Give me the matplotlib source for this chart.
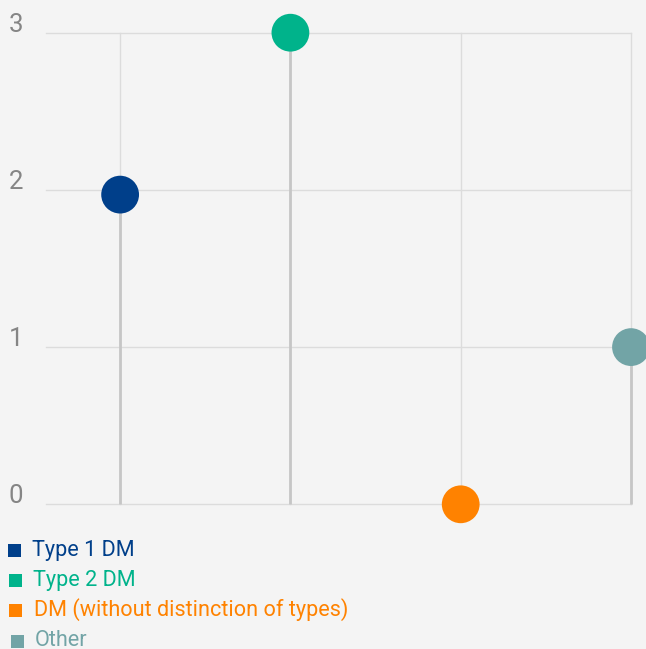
import matplotlib
matplotlib.use("Agg")
import matplotlib.pyplot as plt
from matplotlib.patches import Rectangle
from matplotlib.transforms import blended_transform_factory, ScaledTranslation

categories = ["Type 1 DM", "Type 2 DM", "DM (without distinction of types)", "Other"]
values = [1.97, 3, 0, 1]
colors = ["#003f8a", "#00b38b", "#ff8200", "#72a4a6"]
y_ticks = [0, 1, 2, 3]

W, H, DPI = 646, 649, 100
bg = "#f4f4f4"
plt.rcParams["font.family"] = ["Roboto", "DejaVu Sans"]

fig = plt.figure(figsize=(W / DPI, H / DPI), dpi=DPI, facecolor=bg)
ax = fig.add_axes([46 / W, (H - 504.3) / H, (631 - 46) / W, (504.3 - 32.7) / H])
ax.set_facecolor(bg)
for s in ax.spines.values():
    s.set_visible(False)

x = list(range(len(categories)))
ax.set_xlim(-74 / 170, 3)
ax.set_ylim(0, 3)

# grid
for yv in y_ticks:
    ax.axhline(yv, color="#dcdcdc", lw=1.0, zorder=1, clip_on=False)
for xv in x:
    ax.axvline(xv, color="#dcdcdc", lw=1.0, zorder=1, clip_on=False)

# stems and heads
ax.vlines(x, 0, values, color="#c6c6c6", lw=2.0, zorder=2, clip_on=False)
ax.scatter(x, values, s=27.2 ** 2, c=colors, zorder=3, clip_on=False, linewidths=0)

ax.set_xticks([])
ax.set_yticks([])

# y labels sitting above-left of their gridlines
tr = blended_transform_factory(fig.transFigure, ax.transData)
off = ScaledTranslation(0, 8 / DPI, fig.dpi_scale_trans)
for yv in y_ticks:
    ax.text(9 / W, yv, str(yv), transform=tr + off, ha="left", va="center",
            fontsize=18.5, color="#858585")

# legend
rows_y = [550.3, 580.7, 610.0, 641.0]
sq_x = [8, 9, 9, 11]
txt_x = [32, 33, 34, 35]
for name, col, yc, sx, tx in zip(categories, colors, rows_y, sq_x, txt_x):
    fig.patches.append(Rectangle((sx / W, (H - yc - 6.5) / H), 13 / W, 13 / H,
                                 transform=fig.transFigure, color=col, lw=0))
    fig.text(tx / W, (H - yc) / H, name, ha="left", va="center",
             fontsize=15.6, color=col)

fig.savefig("out.png", dpi=DPI, facecolor=bg)
